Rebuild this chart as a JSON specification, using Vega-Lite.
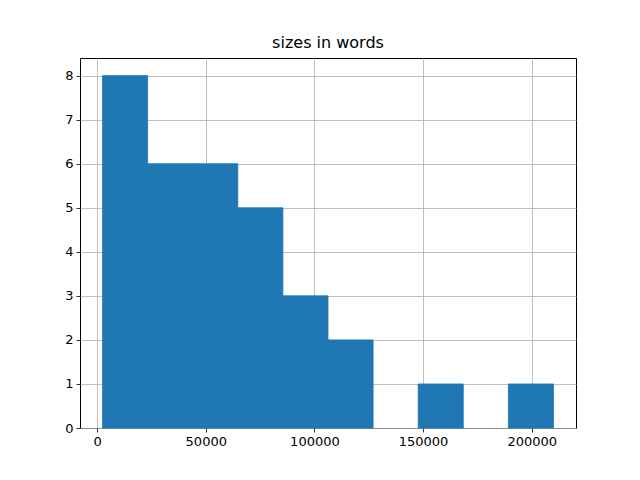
{
  "$schema": "https://vega.github.io/schema/vega-lite/v6.json",
  "autosize": "none",
  "width": 496,
  "height": 370,
  "padding": {"left": 80, "top": 58, "right": 64, "bottom": 52},
  "background": "white",
  "title": {"text": "sizes in words", "font": "DejaVu Sans", "fontSize": 16, "fontWeight": "normal", "color": "#000", "offset": 7},
  "config": {
    "view": {"stroke": "#000", "strokeWidth": 1},
    "axis": {
      "domain": false,
      "grid": true,
      "gridColor": "#b0b0b0",
      "gridWidth": 0.8,
      "tickColor": "#000",
      "tickSize": 4,
      "tickWidth": 0.8,
      "labelFont": "DejaVu Sans",
      "labelFontSize": 13,
      "labelColor": "#000",
      "labelPadding": 3,
      "title": null,
      "zindex": 1
    }
  },
  "data": {
    "values": [
      {"bin_start": 2500, "bin_end": 23250, "count": 8},
      {"bin_start": 23250, "bin_end": 44000, "count": 6},
      {"bin_start": 44000, "bin_end": 64750, "count": 6},
      {"bin_start": 64750, "bin_end": 85500, "count": 5},
      {"bin_start": 85500, "bin_end": 106250, "count": 3},
      {"bin_start": 106250, "bin_end": 127000, "count": 2},
      {"bin_start": 127000, "bin_end": 147750, "count": 0},
      {"bin_start": 147750, "bin_end": 168500, "count": 1},
      {"bin_start": 168500, "bin_end": 189250, "count": 0},
      {"bin_start": 189250, "bin_end": 210000, "count": 1}
    ]
  },
  "mark": {"type": "bar", "color": "#1f77b4", "binSpacing": 0, "stroke": "#1f77b4", "strokeWidth": 0.8},
  "encoding": {
    "x": {
      "field": "bin_start",
      "type": "quantitative",
      "scale": {"domain": [-7875, 220375], "nice": false, "zero": false, "padding": 0},
      "axis": {"values": [0, 50000, 100000, 150000, 200000], "format": "d", "labelFlush": false}
    },
    "x2": {"field": "bin_end"},
    "y": {
      "field": "count",
      "type": "quantitative",
      "scale": {"domain": [0, 8.4], "nice": false, "padding": 0},
      "axis": {"values": [0, 1, 2, 3, 4, 5, 6, 7, 8], "format": "d"}
    },
    "y2": {"datum": 0},
    "strokeOpacity": {"condition": {"test": "datum.count > 0", "value": 1}, "value": 0}
  }
}
